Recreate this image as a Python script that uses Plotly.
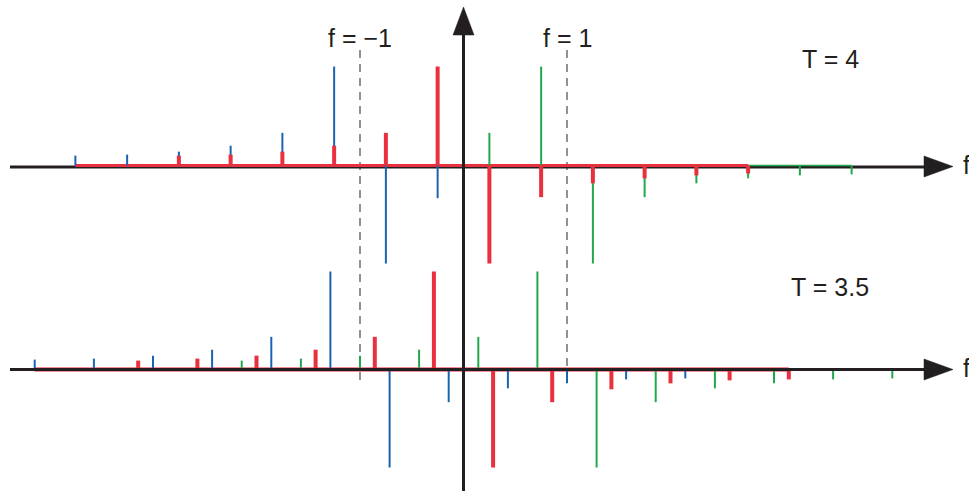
import plotly.graph_objects as go

# ---------------- data ----------------
# T = 4 panel (spectral line positions in f, normalised amplitudes)
red_f_top = [-2.75, -2.25, -1.75, -1.25, -0.75, -0.25, 0.25, 0.75, 1.25, 1.75, 2.25, 2.75]
red_a_top = [0.10, 0.11, 0.14, 0.20, 0.33, 1.00, -0.99, -0.32, -0.18, -0.13, -0.10, -0.08]
blue_f_top = [-3.75, -3.25, -2.75, -2.25, -1.75, -1.25, -0.75, -0.25]
blue_a_top = [0.10, 0.11, 0.14, 0.20, 0.33, 1.00, -0.99, -0.33]
green_f_top = [0.25, 0.75, 1.25, 1.75, 2.25, 2.75, 3.25, 3.75]
green_a_top = [0.33, 1.00, -0.99, -0.32, -0.18, -0.13, -0.10, -0.09]

# T = 3.5 panel
red_f_bot = [-3.143, -2.571, -2.0, -1.429, -0.857, -0.286, 0.286, 0.857, 1.429, 2.0, 2.571, 3.143]
red_a_bot = [0.09, 0.11, 0.14, 0.20, 0.33, 0.99, -0.99, -0.33, -0.20, -0.14, -0.11, -0.10]
blue_f_bot = [-4.143, -3.571, -3.0, -2.429, -1.857, -1.286, -0.714, -0.143, 0.429, 1.0, 1.571, 2.143]
blue_a_bot = [0.10, 0.11, 0.14, 0.20, 0.33, 0.99, -0.99, -0.33, -0.19, -0.14, -0.10, -0.09]
green_f_bot = [-2.143, -1.571, -1.0, -0.429, 0.143, 0.714, 1.286, 1.857, 2.429, 3.0, 3.571, 4.143]
green_a_bot = [0.09, 0.11, 0.14, 0.20, 0.33, 0.99, -0.99, -0.33, -0.19, -0.14, -0.10, -0.09]

marker_f = [-1, 1]
marker_labels = ["f = \u22121", "f = 1"]
panel_labels = ["T = 4", "T = 3.5"]
axis_label = "f"

# ---------------- styling ----------------
W, H = 969, 491
X0, SX = 463.5, 103.5          # pixel of f=0, pixels per unit f
RED, BLUE, GREEN = "#e8303f", "#1a63b0", "#22a84c"
PINK = "rgba(232,48,63,0.55)"
INK = "#231f20"
FONT = "Liberation Sans, Arial, Helvetica, sans-serif"

def px(x):
    return x / W

def py(y):
    return 1 - y / H

TOP_BASE, BOT_BASE, AMP = 165.5, 369.5, 99.0
TOP_END, BOT_START = 290.0, 255.0   # overlapping panel domains (pixels)

fig = go.Figure()

def stems(fs, amps, color, width, yaxis):
    xs, ys = [], []
    for f, a in zip(fs, amps):
        xs += [f, f, None]
        ys += [0, a, None]
    fig.add_trace(go.Scatter(x=xs, y=ys, mode="lines", yaxis=yaxis,
                             line=dict(color=color, width=width),
                             hoverinfo="skip", showlegend=False))

def baseline(x0, x1, color, width, yaxis):
    fig.add_trace(go.Scatter(x=[x0, x1], y=[0, 0], mode="lines", yaxis=yaxis,
                             line=dict(color=color, width=width),
                             hoverinfo="skip", showlegend=False))

# top panel
baseline(min(green_f_top[-3:]), max(green_f_top), GREEN, 1.6, "y")
baseline(min(blue_f_top), max(red_f_top), RED, 3, "y")
stems(blue_f_top, blue_a_top, BLUE, 2, "y")
stems(green_f_top, green_a_top, GREEN, 2, "y")
stems(red_f_top, red_a_top, RED, 4, "y")

# bottom panel
baseline(min(blue_f_bot), max(red_f_bot), PINK, 5, "y2")
stems(blue_f_bot, blue_a_bot, BLUE, 2, "y2")
stems(green_f_bot, green_a_bot, GREEN, 2, "y2")
stems(red_f_bot, red_a_bot, RED, 4, "y2")

shapes = []
# dashed marker lines
for f in marker_f:
    shapes.append(dict(type="line", xref="x", yref="paper", x0=f, x1=f,
                       y0=py(50), y1=py(381), layer="below",
                       line=dict(color="#6e6e6e", width=1.5, dash="8px,6px")))
# horizontal axes
shapes.append(dict(type="line", xref="paper", yref="paper", x0=px(10), x1=px(930),
                   y0=py(167), y1=py(167), layer="below", line=dict(color=INK, width=3)))
shapes.append(dict(type="line", xref="paper", yref="paper", x0=px(10), x1=px(930),
                   y0=py(369.5), y1=py(369.5), layer="above", line=dict(color=INK, width=3)))
# vertical axis
shapes.append(dict(type="line", xref="paper", yref="paper", x0=px(X0), x1=px(X0),
                   y0=py(491), y1=py(30), layer="above", line=dict(color=INK, width=3)))
# arrowheads
def tri(p1, p2, p3):
    return dict(type="path", xref="paper", yref="paper", layer="above",
                path=f"M {px(p1[0])} {py(p1[1])} L {px(p2[0])} {py(p2[1])} L {px(p3[0])} {py(p3[1])} Z",
                fillcolor=INK, line=dict(color=INK, width=0.5))
shapes.append(tri((X0, 7), (453, 35), (474, 35)))
shapes.append(tri((953, 166.5), (924, 156), (924, 177)))
shapes.append(tri((953, 369.5), (924, 359), (924, 380)))

annotations = []
for f, lab in zip(marker_f, marker_labels):
    annotations.append(dict(x=f, y=py(38), xref="x", yref="paper", text=lab,
                            showarrow=False, xanchor="center", yanchor="middle",
                            font=dict(size=25, color=INK, family=FONT)))
for ypos, lab in zip([59, 287], panel_labels):
    annotations.append(dict(x=px(830), y=py(ypos), xref="paper", yref="paper", text=lab,
                            showarrow=False, xanchor="center", yanchor="middle",
                            font=dict(size=25, color=INK, family=FONT)))
for ypos in [165, 368]:
    annotations.append(dict(x=px(961), y=py(ypos), xref="paper", yref="paper", text=axis_label,
                            showarrow=False, xanchor="left", yanchor="middle",
                            font=dict(size=25, color=INK, family=FONT)))

fig.update_layout(
    width=W, height=H,
    margin=dict(l=0, r=0, t=0, b=0),
    paper_bgcolor="white", plot_bgcolor="rgba(0,0,0,0)",
    showlegend=False,
    xaxis=dict(range=[(0 - X0) / SX, (W - X0) / SX], visible=False, fixedrange=True),
    yaxis=dict(domain=[py(TOP_END), 1], range=[(TOP_BASE - TOP_END) / AMP, TOP_BASE / AMP],
               visible=False, fixedrange=True),
    yaxis2=dict(domain=[0, py(BOT_START)], range=[(BOT_BASE - H) / AMP, (BOT_BASE - BOT_START) / AMP],
                visible=False, fixedrange=True),
    shapes=shapes,
    annotations=annotations,
)

fig.write_html("out.html", config={"displayModeBar": False},
               post_script="document.body.style.margin='0';document.body.style.overflow='hidden';")
